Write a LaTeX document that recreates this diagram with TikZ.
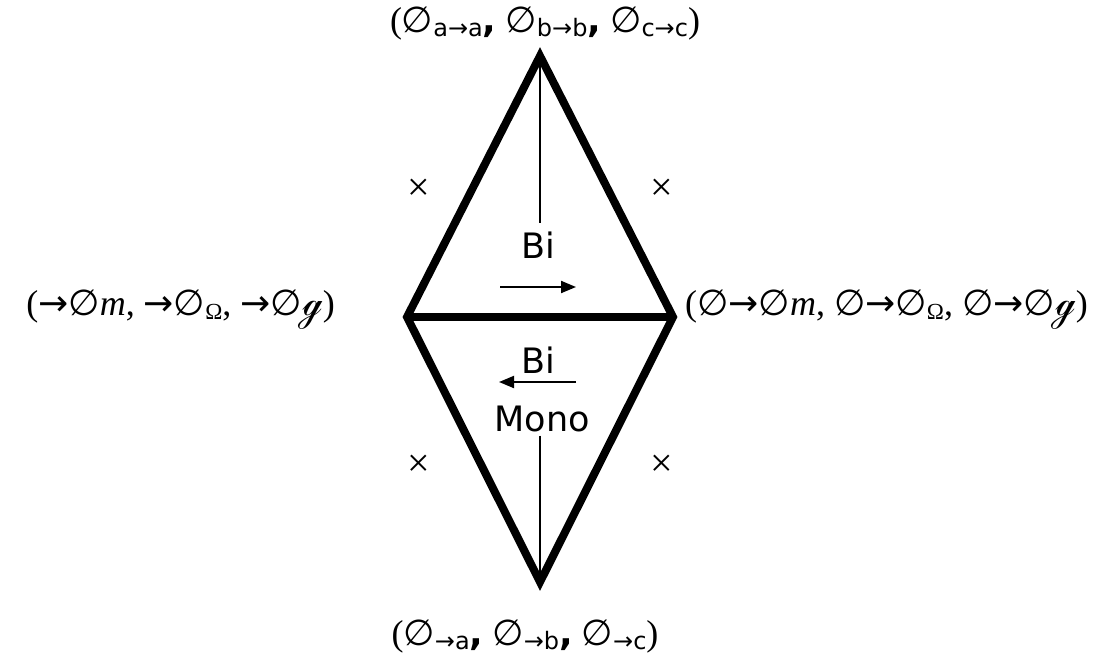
\documentclass[tikz,border=0pt]{standalone}
\usepackage{fontspec}
\setmainfont{Liberation Serif}
\setsansfont{DejaVu Sans}
\newfontfamily\mysymfont{DejaVu Sans}
\newfontfamily\myscrfont{Noto Sans}
\usetikzlibrary{arrows.meta}
\newcommand\myempty{{\mysymfont ∅}}
\newcommand\myarr{{\mysymfont →}}
\newcommand\ssub[1]{\raisebox{-0.25ex}{\fontsize{24}{24}\sffamily #1}}
\newcommand\rsub[1]{\raisebox{-0.25ex}{\fontsize{23}{23}\selectfont #1}}
\newcommand\scg{{\myscrfont ℊ}}
\tikzset{
  edge/.style={line width=8pt, line join=miter, line cap=butt},
  thin/.style={line width=2pt},
  arr/.style={line width=2pt, -{Triangle[length=15pt,width=12pt]}},
  big/.style={font=\fontsize{36}{40}\selectfont, inner sep=0pt},
  lab/.style={font=\sffamily\fontsize{35}{40}\selectfont, inner sep=0pt},
  cross/.style={font=\fontsize{40}{40}\selectfont, inner sep=0pt}
}
\begin{document}
\begin{tikzpicture}[x=1pt,y=-1pt]
\useasboundingbox (0,0) rectangle (1099,656);
\coordinate (T) at (540,56);
\coordinate (B) at (540,582);
\coordinate (L) at (407,317);
\coordinate (R) at (673,317);
\draw[edge] (T) -- (R) -- (B) -- (L) -- cycle;
\draw[edge] (L) -- (R);
% labels
\node[lab, anchor=base, outer sep=8pt] (bi1) at (538,258) {Bi};
\node[lab, anchor=base] (bi2) at (538,373) {Bi};
\node[lab, anchor=base, outer sep=4pt] (mono) at (542,431) {Mono};
\draw[thin] (T) -- (bi1.north -| T);
\draw[thin] (mono.south -| B) -- (B);
\coordinate (a1s) at (500,287);
\coordinate (a1e) at (576,287);
\coordinate (a2s) at (576,382);
\coordinate (a2e) at (499,382);
\draw[arr] (a1s) -- (a1e);
\draw[arr] (a2s) -- (a2e);
% crosses
\node[cross] (x1) at (419,190) {×};
\node[cross] (x2) at (662,190) {×};
\node[cross] (x3) at (419,466) {×};
\node[cross] (x4) at (662,466) {×};
% vertex labels
\node[big, anchor=base] (top) at (545,32)
  {(\myempty\ssub{a\myarr a}{\sffamily\bfseries ,} \myempty\ssub{b\myarr b}{\sffamily\bfseries ,} \myempty\ssub{c\myarr c})};
\node[big, anchor=base] (bot) at (525,645)
  {(\myempty\ssub{\myarr a}{\sffamily\bfseries ,} \myempty\ssub{\myarr b}{\sffamily\bfseries ,} \myempty\ssub{\myarr c})};
\node[big, anchor=base east] (left) at (335,315)
  {(\myarr\myempty\textit{m}, \myarr\myempty\rsub{Ω}, \myarr\myempty\scg)};
\node[big, anchor=base west] (right) at (685,315)
  {(\myempty\myarr\myempty\textit{m}, \myempty\myarr\myempty\rsub{Ω}, \myempty\myarr\myempty\scg)};
\end{tikzpicture}
\end{document}
